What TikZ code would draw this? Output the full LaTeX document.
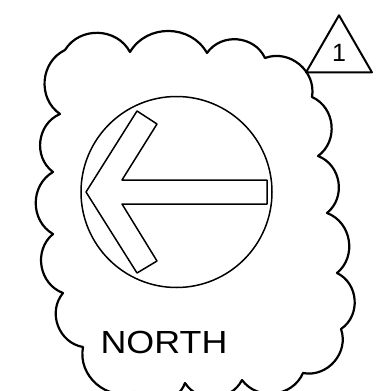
\documentclass[tikz,border=0pt]{standalone}
\usepackage{fontspec}
\setmainfont{Liberation Sans}
\newfontfamily\signfont[FakeStretch=1.12]{Liberation Sans}
\usetikzlibrary{shapes.geometric, positioning}

\begin{document}
\begin{tikzpicture}[x=1pt, y=-1pt, line join=round,
    cloudline/.style={line width=2.2pt, bend left=60, looseness=1.1},
    dial/.style={circle, draw, line width=1.5pt, minimum size=191pt, inner sep=0pt},
    arrowline/.style={line width=1.5pt},
    revtag/.style={regular polygon, regular polygon sides=3, draw, line width=2pt,
                   minimum size=76pt, inner sep=0pt, font=\fontsize{25}{25}\selectfont}]
    \useasboundingbox (0,0) rectangle (381,391);
    \clip (0,0) rectangle (381,391);

    \draw[cloudline] (65,50) to (130,52) to (207,53) to (265,58) to (312,97)
        to (318,156) to (327,213) to (337,273) to (341,329) to (303,373)
        to (242,380) to (185,383) to (135,392) to (83,347) to (63,293)
        to (53,234) to (53,172) to (60,114) to (65,50);

    \node[dial] (dial) at (176.5,192) {};
    \draw[arrowline] (86,192) -- (137,111) -- (157,124) -- (122,180) -- (267,180)
        -- (267,204) -- (122,204) -- (157,261) -- (137,273) -- cycle;

    \node[revtag] (rev) at (339,53.3) {1};
    \node[font=\signfont\fontsize{32}{32}\selectfont, inner sep=0pt] (north) at (164,342) {NORTH};
\end{tikzpicture}
\end{document}
